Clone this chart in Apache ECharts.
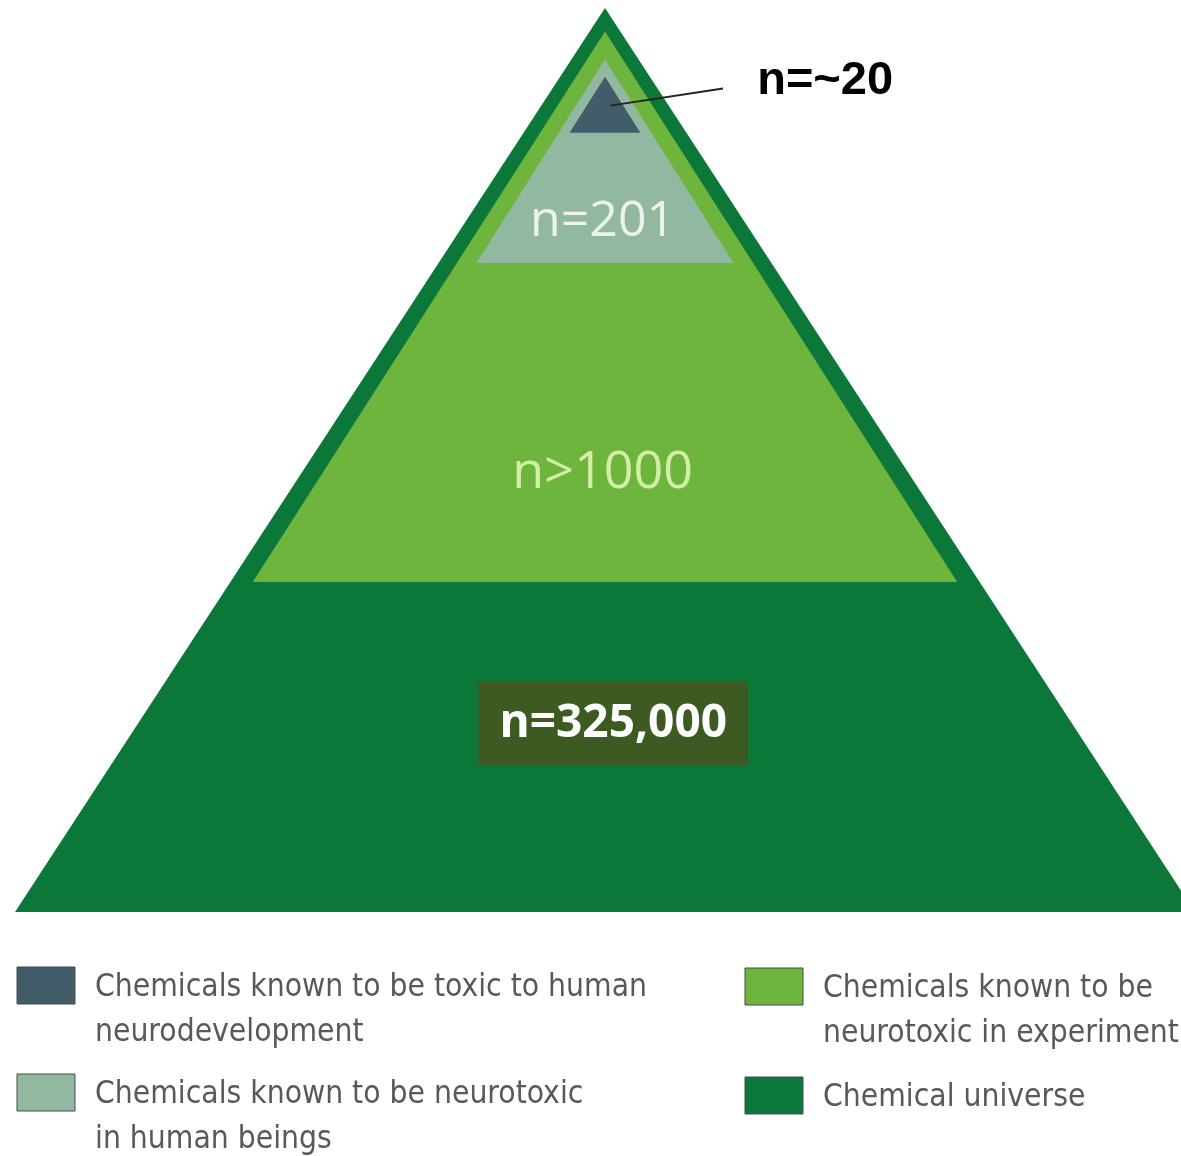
<!DOCTYPE html>
<html><head><meta charset="utf-8">
<script src="https://cdn.jsdelivr.net/npm/echarts@6/dist/echarts.min.js"></script>
<style>html,body{margin:0;padding:0;background:#fff}#c{width:1181px;height:1156px}</style>
</head><body><div id="c"></div>
<script>
// ---- data ----
const categories = [
  'Chemicals known to be toxic to human\nneurodevelopment',
  'Chemicals known to be neurotoxic\nin human beings',
  'Chemicals known to be\nneurotoxic in experiment',
  'Chemical universe'
];
const counts = [20, 201, 1000, 325000];
const countLabels = ['n=~20', 'n=201', 'n>1000', 'n=325,000'];

// ---- styles ----
const colors = ['#425c69', '#92b8a2', '#6db53d', '#0b783a'];
const legendBorder = '#4a4a4a';

// ---- geometry (axis units: x -100..100 = half base, y 0 = base .. 100 = apex) ----
const tierShapes = [
  { apexY: 92.4, baseY: 86.2, halfBase: 6.0 },
  { apexY: 94.3, baseY: 71.8, halfBase: 21.8 },
  { apexY: 97.4, baseY: 36.5, halfBase: 59.7 },
  { apexY: 100, baseY: 0, halfBase: 100 }
];
const labelLayout = [
  { x: 25.8, y: 91.9, align: 'left', font: 'bold 47px "Liberation Sans", Arial, sans-serif', color: '#000',
    leader: [[0.9, 89.2], [20.0, 91.1]] },
  { x: -0.4, y: 76.3, align: 'center', font: '50px "Open Sans", sans-serif', color: 'rgba(240,245,240,0.95)' },
  { x: -0.4, y: 48.5, align: 'center', font: '52px "Open Sans", sans-serif', color: '#d4eea8' },
  { x: 1.4, y: 20.85, align: 'center', font: 'bold 46px "Open Sans", sans-serif', color: '#ffffff',
    box: { w: 270, h: 83, color: '#3d5a23' } }
];
const legendSlots = [
  { x: 17, y: 967 }, { x: 17, y: 1074 }, { x: 745, y: 968 }, { x: 745, y: 1077 }
];

const drawOrder = [3, 2, 1, 0];

const chart = echarts.init(document.getElementById('c'), null, { renderer: 'canvas' });

function makeRender(i) {
  return function (params, api) {
    const s = tierShapes[i];
    const apex = api.coord([0, s.apexY]);
    const bl = api.coord([-s.halfBase, s.baseY]);
    const br = api.coord([s.halfBase, s.baseY]);
    const children = [{
      type: 'polygon',
      shape: { points: [apex, bl, br] },
      style: { fill: api.visual('color') }
    }];
    const L = labelLayout[i];
    const p = api.coord([L.x, L.y]);
    if (L.leader) {
      const a = api.coord(L.leader[0]), b = api.coord(L.leader[1]);
      children.push({ type: 'line', shape: { x1: a[0], y1: a[1], x2: b[0], y2: b[1] },
        style: { stroke: '#222', lineWidth: 2 } });
    }
    if (L.box) {
      children.push({ type: 'rect', shape: { x: p[0] - L.box.w / 2, y: p[1] - L.box.h / 2, width: L.box.w, height: L.box.h },
        style: { fill: L.box.color } });
    }
    children.push({
      type: 'text',
      style: { text: countLabels[i], x: p[0], y: p[1], font: L.font, fill: L.color,
        align: L.align, verticalAlign: 'middle' }
    });
    return { type: 'group', children: children };
  };
}

const series = drawOrder.map(function (i) {
  return {
    type: 'custom',
    name: categories[i],
    coordinateSystem: 'cartesian2d',
    data: [[i, counts[i]]],
    itemStyle: { color: colors[i] },
    renderItem: makeRender(i),
    silent: true,
    clip: false,
    z: 2 + (3 - i)
  };
});

const legendFont = '31.5px "Liberation Sans Narrow", "DejaVu Sans Condensed", "Liberation Sans", sans-serif';
const legendGraphics = [];
categories.forEach(function (c, i) {
  const s = legendSlots[i];
  legendGraphics.push({
    type: 'rect', silent: true,
    shape: { x: s.x, y: s.y, width: 58, height: 37 },
    style: { fill: colors[i], stroke: legendBorder, lineWidth: 1 }
  });
  legendGraphics.push({
    type: 'text', silent: true,
    style: { text: c, x: s.x + 78, y: s.y + 20 - 22, font: legendFont, lineHeight: 45,
      fill: '#595959', verticalAlign: 'top', align: 'left' }
  });
});

chart.setOption({
  animation: false,
  backgroundColor: '#fff',
  grid: { left: 15, top: 8, right: 0, height: 904 },
  xAxis: { type: 'value', min: -100, max: 97.63, show: false },
  yAxis: { type: 'value', min: 0, max: 100, show: false },
  graphic: legendGraphics,
  series: series
});
</script>
</body></html>
